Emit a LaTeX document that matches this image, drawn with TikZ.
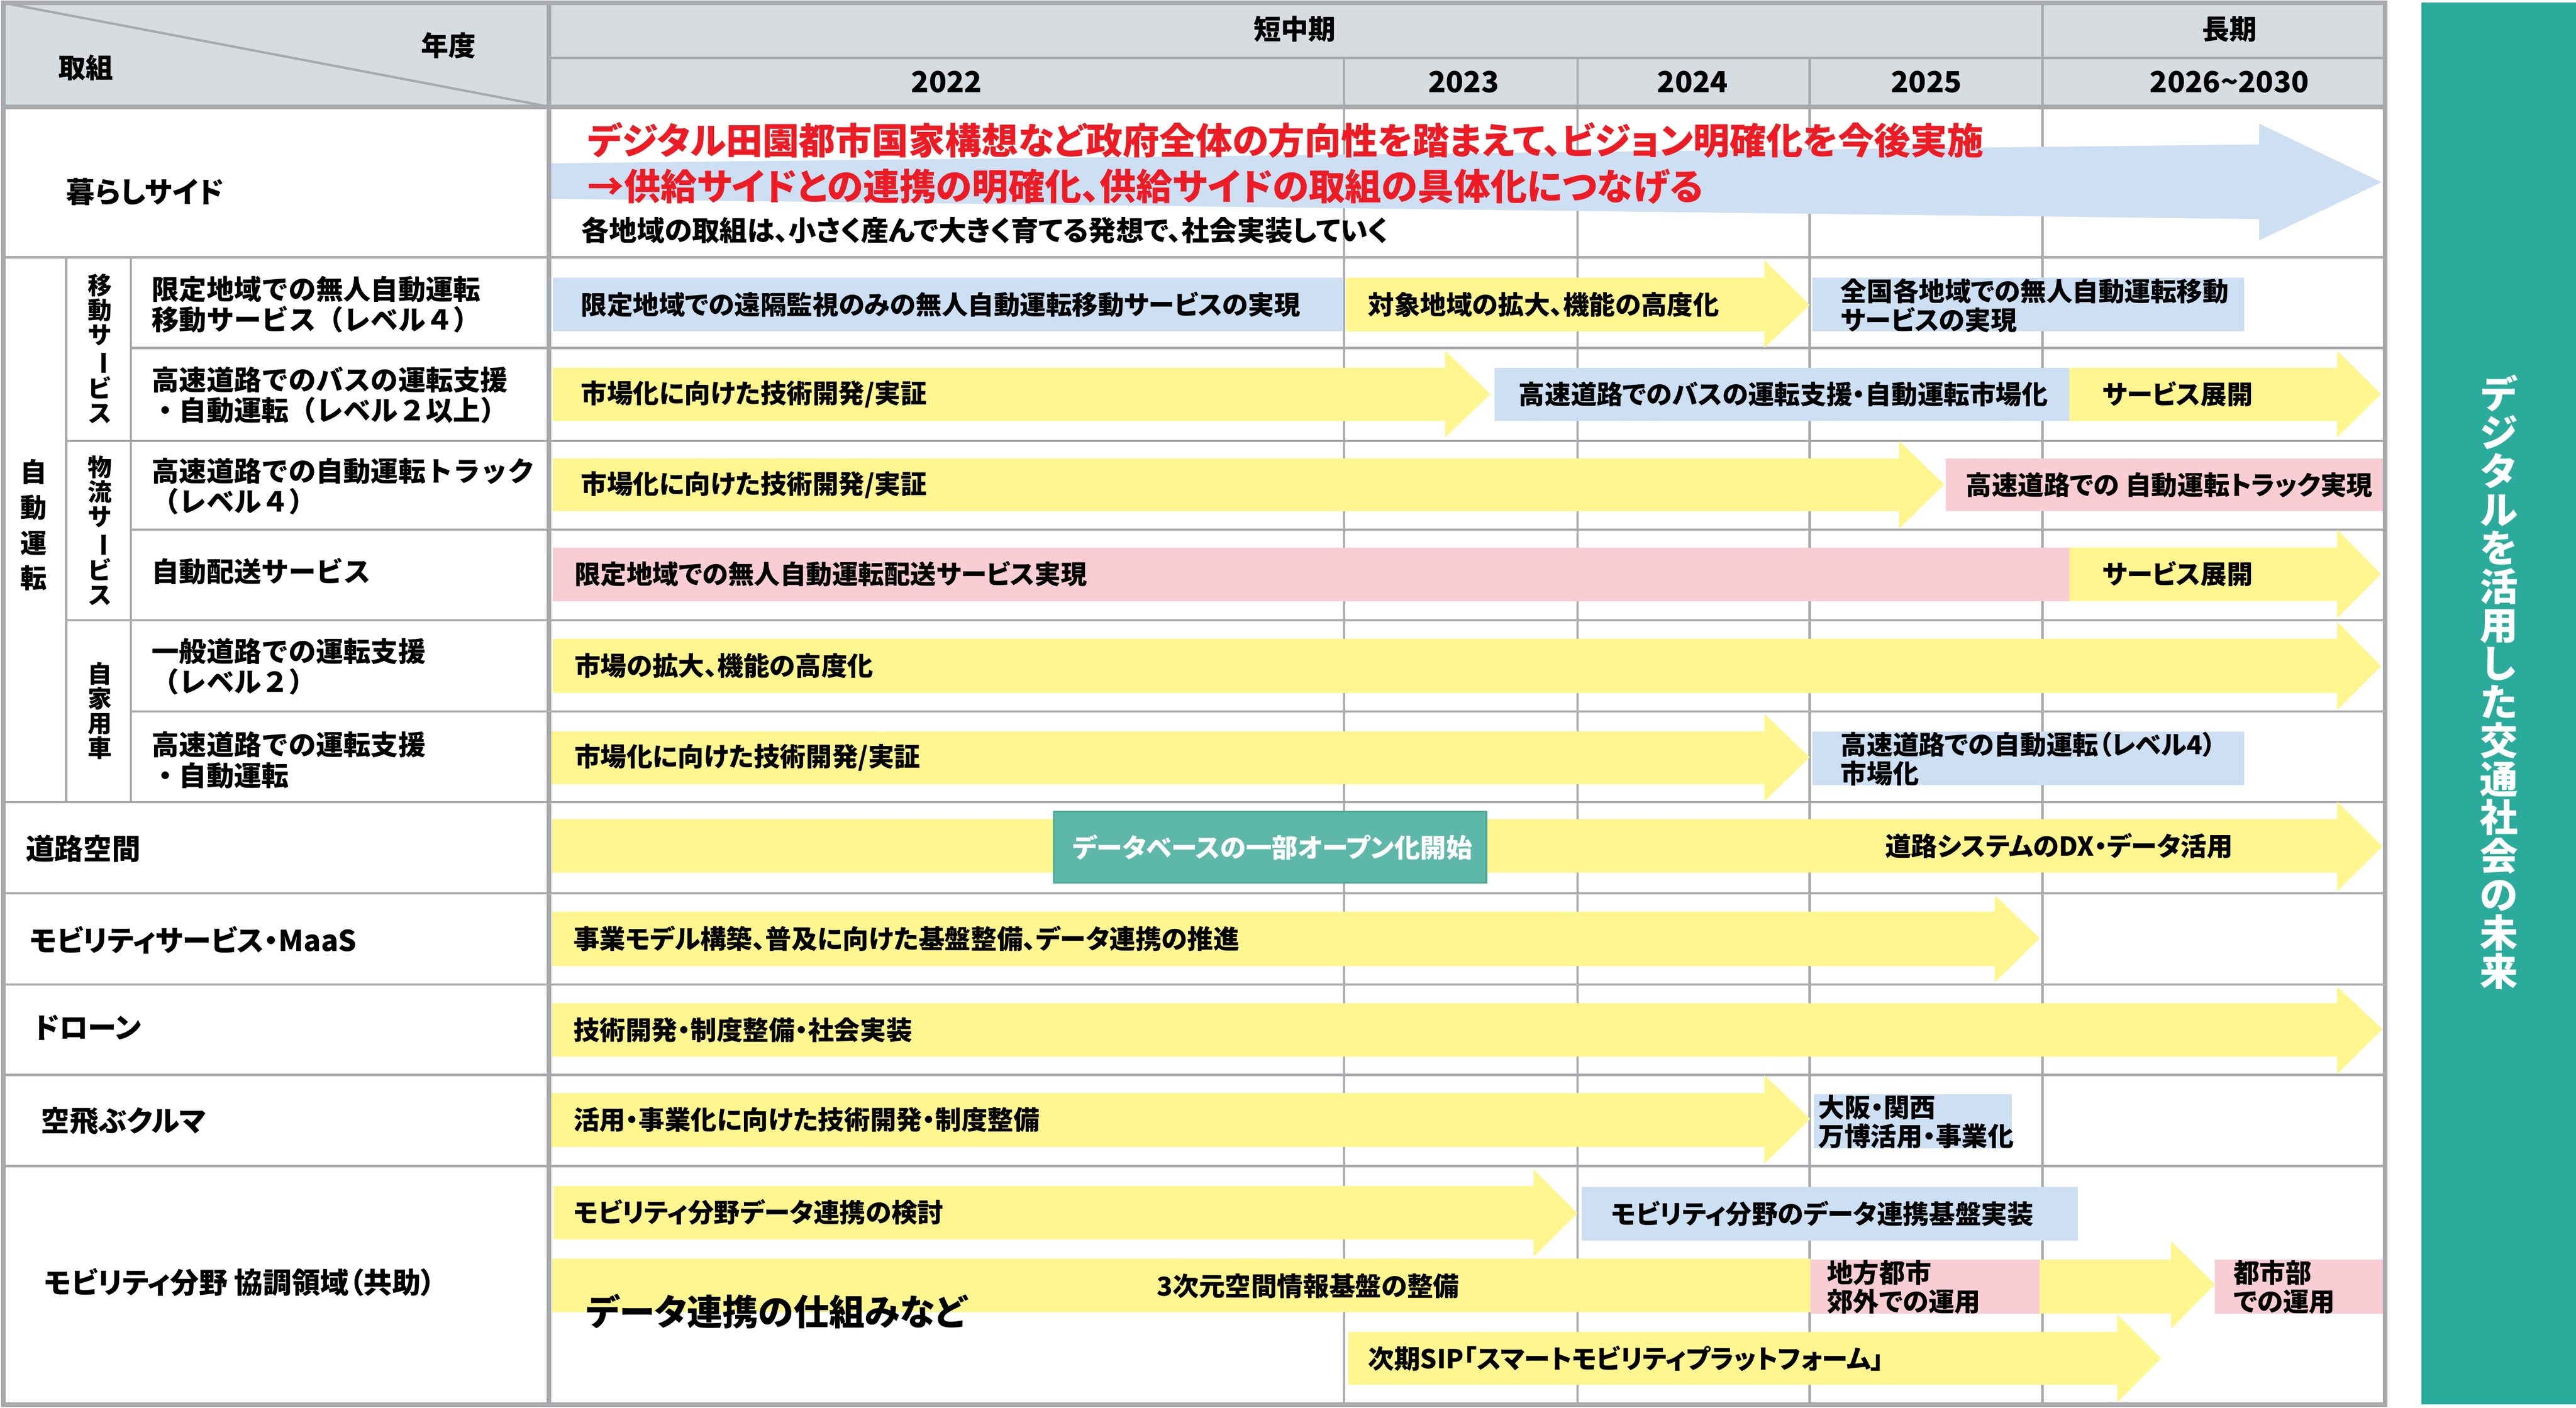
\documentclass[tikz,border=0pt]{standalone}
\usepackage{fontspec}
\usepackage{xcolor}
\setmainfont{Noto Sans CJK JP}[RawFeature=+palt]
\newfontfamily\jpwide{Noto Sans CJK JP}
\usepackage{tikz}

\definecolor{linegray}{HTML}{A7A9AC}
\definecolor{headgray}{HTML}{D6DCE0}
\definecolor{barblue}{HTML}{CCDFF3}
\definecolor{baryellow}{HTML}{FFF68F}
\definecolor{barpink}{HTML}{F9CDD4}
\definecolor{dbteal}{HTML}{5EB8A9}
\definecolor{dbedge}{HTML}{48A995}
\definecolor{sidegreen}{HTML}{2AAB9C}
\definecolor{visionred}{HTML}{ED1C24}

\tikzstyle{thinline} = [draw=linegray, line width=1.4pt]
\tikzstyle{thickline} = [draw=linegray, line width=2.8pt]
\tikzstyle{headtext} = [inner sep=0pt, font=\bfseries\fontsize{16.5}{18}\selectfont]
\tikzstyle{yeartext} = [inner sep=0pt, font=\bfseries\fontsize{17.5}{19}\selectfont]
\tikzstyle{rowlabel} = [anchor=west, inner sep=0pt, align=left, font=\bfseries\fontsize{17.3}{18.5}\selectfont]
\tikzstyle{autolabel} = [anchor=west, inner sep=0pt, align=left, font=\jpwide\bfseries\fontsize{16.5}{18.5}\selectfont]
\tikzstyle{bartext} = [anchor=west, inner sep=0pt, align=left, font=\bfseries\fontsize{15.7}{17.4}\selectfont]
\tikzstyle{redtext} = [anchor=west, inner sep=0pt, text=visionred, font=\bfseries\fontsize{22}{23}\selectfont]
\tikzstyle{bigtext} = [anchor=west, inner sep=0pt, font=\bfseries\fontsize{21.5}{23}\selectfont]
\tikzstyle{vtext} = [inner sep=0pt, align=center, font=\jpwide\bfseries\fontsize{14.5}{14.9}\selectfont]

\newcommand{\tatebo}{\rotatebox[origin=c]{-90}{ー}}

\begin{document}
\begin{tikzpicture}[x=1cm, y=-1cm]
    \useasboundingbox (0,0) rectangle (54.56,29.82);
    % header
    \fill[headgray] (0.07,0.06) rectangle (50.52,2.26);
    \draw[thinline] (0.07,0.06) -- (11.63,2.26);
    \draw[thinline] (11.63,1.23) -- (50.52,1.23);
    \foreach \x in {28.47,33.41,38.33} \draw[thinline] (\x,1.23) -- (\x,29.75);
    \draw[thinline] (43.26,0.06) -- (43.26,29.75);
    % rows
    \foreach \y in {5.45,16.99,18.92,20.85,22.77,24.70} \draw[thinline] (0.07,\y) -- (50.52,\y);
    \foreach \y in {9.34,13.14} \draw[thinline] (1.40,\y) -- (50.52,\y);
    \foreach \y in {7.37,11.22,15.07} \draw[thinline] (2.77,\y) -- (50.52,\y);
    \draw[thinline] (1.40,5.45) -- (1.40,16.99);
    \draw[thinline] (2.77,5.45) -- (2.77,16.99);

    % bars
    \fill[barblue] (11.67,3.46) -- (47.85,3.06) -- (47.85,2.62) -- (50.44,3.86) -- (47.85,5.09) -- (47.85,4.64) -- (11.67,4.21) -- cycle;
    \fill[barblue] (11.71,5.88) rectangle (28.44,7.02);
    \fill[baryellow] (28.51,5.88) -- (37.37,5.88) -- (37.37,5.51) -- (38.33,6.46) -- (37.37,7.37) -- (37.37,7.02) -- (28.51,7.02) -- cycle;
    \fill[barblue] (38.39,5.88) rectangle (47.53,7.02);
    \fill[baryellow] (11.71,7.79) -- (30.61,7.79) -- (30.61,7.43) -- (31.57,8.35) -- (30.61,9.26) -- (30.61,8.92) -- (11.71,8.92) -- cycle;
    \fill[barblue] (31.66,7.79) rectangle (43.83,8.92);
    \fill[baryellow] (43.83,7.79) -- (49.50,7.79) -- (49.50,7.43) -- (50.43,8.35) -- (49.50,9.26) -- (49.50,8.92) -- (43.83,8.92) -- cycle;
    \fill[baryellow] (11.71,9.71) -- (40.22,9.71) -- (40.22,9.34) -- (41.18,10.26) -- (40.22,11.20) -- (40.22,10.83) -- (11.71,10.83) -- cycle;
    \fill[barpink] (41.21,9.71) rectangle (50.49,10.83);
    \fill[barpink] (11.71,11.60) rectangle (43.83,12.73);
    \fill[baryellow] (43.83,11.60) -- (49.50,11.60) -- (49.50,11.22) -- (50.43,12.16) -- (49.50,13.09) -- (49.50,12.73) -- (43.83,12.73) -- cycle;
    \fill[baryellow] (11.71,13.53) -- (49.50,13.53) -- (49.50,13.17) -- (50.43,14.11) -- (49.50,15.04) -- (49.50,14.68) -- (11.71,14.68) -- cycle;
    \fill[baryellow] (11.65,15.49) -- (37.37,15.49) -- (37.37,15.12) -- (38.33,16.04) -- (37.37,16.97) -- (37.37,16.61) -- (11.65,16.61) -- cycle;
    \fill[barblue] (38.39,15.49) rectangle (47.53,16.63);
    \fill[baryellow] (11.70,17.35) -- (49.50,17.35) -- (49.50,16.98) -- (50.46,17.93) -- (49.50,18.88) -- (49.50,18.48) -- (11.70,18.48) -- cycle;
    \filldraw[fill=dbteal, draw=dbedge, line width=1pt] (22.32,17.19) rectangle (31.48,18.70);
    \fill[baryellow] (11.70,19.31) -- (42.25,19.31) -- (42.25,18.96) -- (43.20,19.87) -- (42.25,20.81) -- (42.25,20.46) -- (11.70,20.46) -- cycle;
    \fill[baryellow] (11.70,21.25) -- (49.50,21.25) -- (49.50,20.90) -- (50.46,21.80) -- (49.50,22.75) -- (49.50,22.38) -- (11.70,22.38) -- cycle;
    \fill[baryellow] (11.64,23.15) -- (37.37,23.15) -- (37.37,22.77) -- (38.34,23.70) -- (37.37,24.65) -- (37.37,24.29) -- (11.64,24.29) -- cycle;
    \fill[barblue] (38.42,23.18) rectangle (42.61,24.32);
    \fill[baryellow] (11.73,25.12) -- (32.48,25.12) -- (32.48,24.77) -- (33.41,25.70) -- (32.48,26.62) -- (32.48,26.25) -- (11.73,26.25) -- cycle;
    \fill[barblue] (33.50,25.14) rectangle (44.01,26.28);
    \fill[baryellow] (11.70,26.66) rectangle (38.34,27.79);
    \fill[barpink] (38.34,26.68) rectangle (43.20,27.82);
    \fill[baryellow] (43.20,26.68) -- (45.98,26.68) -- (45.98,26.29) -- (46.91,27.20) -- (45.98,28.15) -- (45.98,27.82) -- (43.20,27.82) -- cycle;
    \fill[barpink] (46.91,26.68) rectangle (50.52,27.82);
    \fill[baryellow] (28.55,28.21) -- (44.84,28.21) -- (44.84,27.84) -- (45.77,28.77) -- (44.84,29.71) -- (44.84,29.33) -- (28.55,29.33) -- cycle;

    % frame
    \draw[thickline] (0.07,0.06) rectangle (50.52,29.75);
    \draw[thickline] (0.07,2.26) -- (50.52,2.26);
    \draw[thickline] (11.63,0.06) -- (11.63,29.75);
    \fill[sidegreen] (51.29,0.05) rectangle (54.56,29.75);

    % header text
    \node[headtext] (torikumi) at (1.82,1.43) {取組};
    \node[headtext] (nendo) at (9.50,0.96) {年度};
    \node[headtext] (tanchuki) at (27.42,0.62) {短中期};
    \node[headtext] (choki) at (47.22,0.62) {長期};
    \node[yeartext] (y2022) at (20.05,1.73) {2022};
    \node[yeartext] (y2023) at (31.00,1.73) {2023};
    \node[yeartext] (y2024) at (35.85,1.73) {2024};
    \node[yeartext] (y2025) at (40.80,1.73) {2025};
    \node[yeartext] (y2026) at (47.22,1.73) {2026\string~2030};

    % row labels
    \node[rowlabel] (kurashi) at (1.40,4.06) {暮らしサイド};
    \node[vtext, font=\jpwide\bfseries\fontsize{16}{21.3}\selectfont] (jidou) at (0.71,11.12) {自\\動\\運\\転};
    \node[vtext] (idou) at (2.12,7.39) {移\\動\\サ\\\tatebo\\ビ\\ス};
    \node[vtext] (butsuryu) at (2.12,11.24) {物\\流\\サ\\\tatebo\\ビ\\ス};
    \node[vtext] (jikayou) at (2.12,15.06) {自\\家\\用\\車};
    \node[autolabel] (mobility1) at (3.21,6.45) {限定地域での無人自動運転\\移動サービス（レベル４）};
    \node[autolabel] (mobility2) at (3.21,8.37) {高速道路でのバスの運転支援\\・自動運転（レベル２以上）};
    \node[autolabel] (logi1) at (3.21,10.30) {高速道路での自動運転トラック\\（レベル４）};
    \node[autolabel] (logi2) at (3.21,12.10) {自動配送サービス};
    \node[autolabel] (own1) at (3.21,14.12) {一般道路での運転支援\\（レベル２）};
    \node[autolabel] (own2) at (3.21,16.10) {高速道路での運転支援\\・自動運転};
    \node[rowlabel] (douro) at (0.54,17.97) {道路空間};
    \node[rowlabel] (maas) at (0.62,19.91) {モビリティサービス・MaaS};
    \node[rowlabel] (drone) at (0.71,21.76) {ドローン};
    \node[rowlabel] (soratobu) at (0.86,23.74) {空飛ぶクルマ};
    \node[rowlabel] (kyocho) at (0.93,27.16) {モビリティ分野 協調領域（共助）};

    % bar text
    \node[redtext] (vision1) at (12.44,2.97) {デジタル田園都市国家構想など政府全体の方向性を踏まえて、ビジョン明確化を今後実施};
    \node[redtext] (vision2) at (12.44,3.95) {→供給サイドとの連携の明確化、供給サイドの取組の具体化につなげる};
    \node[bartext, font=\bfseries\fontsize{16.7}{18}\selectfont] (kurashinote) at (12.31,4.88) {各地域の取組は、小さく産んで大きく育てる発想で、社会実装していく};
    \node[bartext] (r1a) at (12.30,6.45) {限定地域での遠隔監視のみの無人自動運転移動サービスの実現};
    \node[bartext] (r1b) at (28.97,6.45) {対象地域の拡大、機能の高度化};
    \node[bartext] (r1c) at (38.98,6.47) {全国各地域での無人自動運転移動\\サービスの実現};
    \node[bartext] (r2a) at (12.30,8.35) {市場化に向けた技術開発/実証};
    \node[bartext] (r2b) at (32.16,8.35) {高速道路でのバスの運転支援・自動運転市場化};
    \node[bartext] (r2c) at (44.52,8.35) {サービス展開};
    \node[bartext] (r3a) at (12.30,10.27) {市場化に向けた技術開発/実証};
    \node[bartext] (r3b) at (41.63,10.27) {高速道路での 自動運転トラック実現};
    \node[bartext] (r4a) at (12.16,12.16) {限定地域での無人自動運転配送サービス実現};
    \node[bartext] (r4b) at (44.52,12.16) {サービス展開};
    \node[bartext] (r5a) at (12.16,14.10) {市場の拡大、機能の高度化};
    \node[bartext] (r6a) at (12.16,16.05) {市場化に向けた技術開発/実証};
    \node[bartext] (r6b) at (38.98,16.07) {高速道路での自動運転（レベル4）\\市場化};
    \node[bartext, text=white] (r7a) at (22.71,17.95) {データベースの一部オープン化開始};
    \node[bartext] (r7b) at (39.92,17.92) {道路システムのDX・データ活用};
    \node[bartext] (r8a) at (12.14,19.88) {事業モデル構築、普及に向けた基盤整備、データ連携の推進};
    \node[bartext] (r9a) at (12.14,21.82) {技術開発・制度整備・社会実装};
    \node[bartext] (r10a) at (12.14,23.72) {活用・事業化に向けた技術開発・制度整備};
    \node[bartext] (r10b) at (38.51,23.76) {大阪・関西\\万博活用・事業化};
    \node[bartext] (r11a) at (12.14,25.68) {モビリティ分野データ連携の検討};
    \node[bartext] (r11b) at (34.12,25.71) {モビリティ分野のデータ連携基盤実装};
    \node[bartext] (r11c) at (24.50,27.24) {3次元空間情報基盤の整備};
    \node[bartext] (r11d) at (38.69,27.26) {地方都市\\郊外での運用};
    \node[bartext] (r11e) at (47.30,27.26) {都市部\\での運用};
    \node[bartext] (r11f) at (28.97,28.77) {次期SIP「スマートモビリティプラットフォーム」};
    \node[bigtext] (shikumi) at (12.41,27.78) {データ連携の仕組みなど};

    % side bar
    \node[vtext, text=white, font=\jpwide\bfseries\fontsize{23}{23.2}\selectfont] (future) at (52.93,14.45) {デ\\ジ\\タ\\ル\\を\\活\\用\\し\\た\\交\\通\\社\\会\\の\\未\\来};
\end{tikzpicture}
\end{document}
